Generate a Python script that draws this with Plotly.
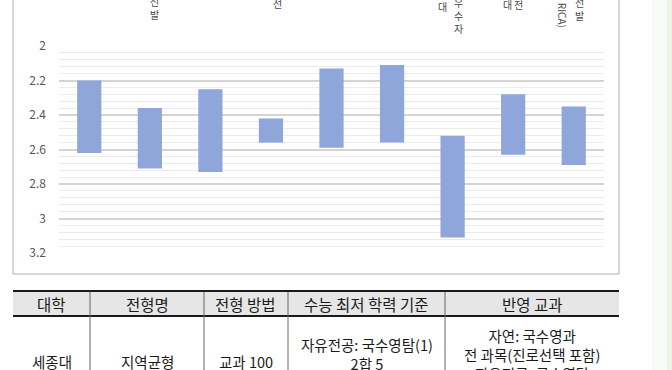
import plotly.graph_objects as go

# ---- data ----
categories = ["c1", "c2", "c3", "c4", "c5", "c6", "c7", "c8", "c9"]
range_top = [2.20, 2.36, 2.25, 2.42, 2.13, 2.11, 2.52, 2.28, 2.35]
range_bottom = [2.62, 2.71, 2.73, 2.56, 2.59, 2.56, 3.11, 2.63, 2.69]
y_ticks = [2, 2.2, 2.4, 2.6, 2.8, 3, 3.2]
y_tick_text = ["2", "2.2", "2.4", "2.6", "2.8", "3", "3.2"]

# visible fragments of the (cut-off) vertical category labels:
# (category index, text, x offset px, bottom y px, angle)
label_fragments = [
    (1, "선<br>발", 5, 23, 0),
    (3, "선", 7, 12, 0),
    (6, "대", -10, 15, 0),
    (6, "우<br>수<br>자", 6, 37, 0),
    (7, "대", -6, 13, 0),
    (7, "전", 5, 13, 0),
    (8, "RICA)", -11, 29, 90),
    (8, "선<br>발", 6, 24, 0),
]

table_header = ["대학", "전형명", "전형 방법", "수능 최저 학력 기준", "반영 교과"]
table_row = ["세종대", "지역균형", "교과 100",
             "자유전공: 국수영탐(1)<br>2합 5",
             "자연: 국수영과<br>전 과목(진로선택 포함)<br>자유전공: 국수영탐"]

W, H = 672, 370
def px(x):
    return x / W
def py(y):
    return 1 - y / H

FONT = "Noto Sans CJK KR, Noto Sans, sans-serif"

fig = go.Figure()
fig.add_trace(go.Bar(
    x=list(range(len(categories))),
    base=range_top,
    y=[b - t for t, b in zip(range_top, range_bottom)],
    width=0.4,
    marker=dict(color="#8fa6da", line=dict(width=0)),
    hoverinfo="skip",
))

shapes = []
# chart box
shapes.append(dict(type="rect", xref="paper", yref="paper",
                   x0=px(13), x1=px(619), y0=py(274), y1=py(-5),
                   line=dict(color="#b0b0b0", width=1), fillcolor="rgba(0,0,0,0)", layer="below"))
# right side background strips
shapes.append(dict(type="rect", xref="paper", yref="paper",
                   x0=px(652), x1=px(667), y0=0, y1=1,
                   line=dict(width=0), fillcolor="#f8faf7", layer="below"))
shapes.append(dict(type="rect", xref="paper", yref="paper",
                   x0=px(667), x1=1, y0=0, y1=1,
                   line=dict(width=0), fillcolor="#eaf5e4", layer="below"))

# table
col_edges = [13, 90, 204, 288, 445, 619]
shapes.append(dict(type="rect", xref="paper", yref="paper",
                   x0=px(13), x1=px(619), y0=py(316), y1=py(291),
                   line=dict(width=0), fillcolor="#e6e6e6"))
for yy in (291, 316):
    shapes.append(dict(type="line", xref="paper", yref="paper",
                       x0=px(13), x1=px(619), y0=py(yy), y1=py(yy),
                       line=dict(color="#1a1a1a", width=2)))
for xx in col_edges[1:-1]:
    shapes.append(dict(type="line", xref="paper", yref="paper",
                       x0=px(xx), x1=px(xx), y0=py(390), y1=py(292),
                       line=dict(color="#666666", width=1)))

annotations = []
for idx, txt, dx, bottom, ang in label_fragments:
    annotations.append(dict(x=idx, xref="x", y=py(bottom), yref="paper",
                            text=txt, showarrow=False, xshift=dx, borderpad=0,
                            xanchor="center", yanchor="bottom", textangle=ang,
                            font=dict(family=FONT, size=10, color="#474747")))

centers = [(col_edges[i] + col_edges[i + 1]) / 2 for i in range(5)]
for c, h in zip(centers, table_header):
    annotations.append(dict(x=px(c), xref="paper", y=py(303.5), yref="paper",
                            text=h, showarrow=False, xanchor="center", yanchor="middle",
                            font=dict(family=FONT, size=15.5, color="#1a1a1a")))
row_pos = [("middle", 361), ("middle", 361), ("middle", 361), ("top", 332), ("top", 323)]
for c, t, (anc, yy) in zip(centers, table_row, row_pos):
    annotations.append(dict(x=px(c), xref="paper", y=py(yy), yref="paper",
                            text=t, showarrow=False, xanchor="center", yanchor=anc,
                            align="center",
                            font=dict(family=FONT, size=14.5, color="#1a1a1a")))

fig.update_layout(
    width=W, height=H, autosize=False,
    margin=dict(l=0, r=0, t=0, b=0, pad=0),
    paper_bgcolor="white", plot_bgcolor="rgba(0,0,0,0)",
    showlegend=False,
    shapes=shapes, annotations=annotations,
    xaxis=dict(domain=[px(59), px(604)], range=[-0.5, 8.5], automargin=False,
               showgrid=False, zeroline=False, showticklabels=False, showline=False),
    yaxis=dict(domain=[py(253), py(46)], range=[3.2, 2], automargin=False,
               tickvals=y_ticks, ticktext=y_tick_text,
               showgrid=True, gridcolor="#d4d4d4", gridwidth=1.5,
               zeroline=False, showline=False, ticks="",
               ticklabelstandoff=12,
               tickfont=dict(family=FONT, size=12, color="#595959"),
               minor=dict(dtick=0.04, tick0=2, showgrid=True, gridcolor="#ebebeb", gridwidth=1)),
)

# place the figure flush with the window's top-left corner
fig.write_html("out.html", config={"displayModeBar": False},
               post_script="document.body.style.margin='0px';")
